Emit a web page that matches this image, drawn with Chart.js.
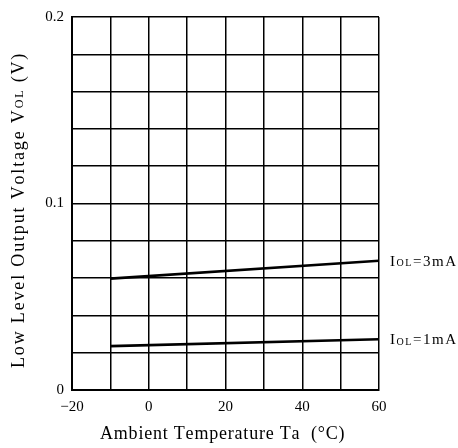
<!DOCTYPE html>
<html>
<head>
<meta charset="utf-8">
<script src="https://cdn.jsdelivr.net/npm/chart.js@4"></script>
<style>
html,body{margin:0;padding:0;background:#fff;}
#wrap{width:458px;height:448px;}
</style>
</head>
<body>
<div id="wrap"><canvas id="c" width="458" height="448"></canvas></div>
<script>
const temps3mA = [-10, 60];
const vol3mA = [0.0597, 0.0693];
const temps1mA = [-10, 60];
const vol1mA = [0.0235, 0.0272];
const seriesLabels = ['3mA', '1mA'];
const xTickLabels = [-20, 0, 20, 40, 60];
const yTickLabels = [0, 0.1, 0.2];

const FONT = '"Liberation Serif", "Times New Roman", serif';

function pts(xs, ys){ return xs.map((x,i)=>({x:x, y:ys[i]})); }

// draw mixed-size text; optionally stretch with letter spacing to a target width
function drawMixed(ctx, parts, x, y, align, target){
  let w = 0, n = 0;
  parts.forEach(p=>{ ctx.font = p.size + 'px ' + FONT; w += ctx.measureText(p.t).width; n += p.t.length; });
  let ls = 0;
  if (target && n > 1) { ls = (target - w) / (n - 1); w = target; }
  let cx = align === 'center' ? x - w/2 : x;
  ctx.textAlign = 'left';
  parts.forEach(p=>{
    ctx.font = p.size + 'px ' + FONT;
    for (const ch of p.t) {
      ctx.fillText(ch, cx, y + (p.dy||0));
      cx += ctx.measureText(ch).width + ls;
    }
  });
}

const labelPlugin = {
  id: 'labels',
  afterDraw(chart){
    const ctx = chart.ctx;
    const ys = chart.scales.y;
    ctx.save();
    ctx.fillStyle = '#000';
    ctx.textBaseline = 'middle';
    const ends = [vol3mA[vol3mA.length-1], vol1mA[vol1mA.length-1]];
    ends.forEach((v,i)=>{
      const py = ys.getPixelForValue(v) + 1;
      drawMixed(ctx, [{t:'I',size:15},{t:'OL',size:10,dy:2},{t:'=',size:15},{t:seriesLabels[i],size:15}], chart.chartArea.right + 11, py, 'left', 66);
    });
    drawMixed(ctx, [{t:'Ambient Temperature Ta  (°C)', size:18}], 221, 434, 'center', 242);
    ctx.translate(19, 212);
    ctx.rotate(-Math.PI/2);
    drawMixed(ctx, [{t:'Low Level Output Voltage V',size:18},{t:'OL',size:12,dy:1},{t:' (V)',size:18}], 0, 0, 'center', 312);
    ctx.restore();
  }
};

new Chart(document.getElementById('c'), {
  type: 'line',
  data: {
    datasets: [
      {label:'IOL=3mA', data: pts(temps3mA, vol3mA), borderColor:'#000', borderWidth:2.6, pointRadius:0, fill:false, tension:0},
      {label:'IOL=1mA', data: pts(temps1mA, vol1mA), borderColor:'#000', borderWidth:2.6, pointRadius:0, fill:false, tension:0}
    ]
  },
  options: {
    responsive:false,
    animation:false,
    devicePixelRatio:1,
    layout:{padding:{top:15, right:79, left:0, bottom:0}},
    plugins:{legend:{display:false}, tooltip:{enabled:false}},
    scales:{
      x:{
        type:'linear', min:-20, max:60,
        afterFit(s){ s.height = 58; },
        border:{display:true, color:'#000', width:2},
        grid:{color:'#000', lineWidth:1.5, drawTicks:false},
        ticks:{
          stepSize:10, padding:8, color:'#000', maxRotation:0, autoSkip:false,
          font:{family:FONT, size:15},
          callback(v){ if (xTickLabels.includes(v)) return v < 0 ? '\u2212' + Math.abs(v) : String(v); return ''; }
        }
      },
      y:{
        type:'linear', min:0, max:0.2,
        afterFit(s){ s.width = 72; },
        border:{display:true, color:'#000', width:2},
        grid:{color:'#000', lineWidth:1.5, drawTicks:false},
        ticks:{
          stepSize:0.02, padding:8, color:'#000', autoSkip:false,
          font:{family:FONT, size:15},
          callback(v){ const r = Math.round(v*100)/100; if (yTickLabels.some(t=>Math.abs(t-r)<1e-9)) return String(r); return ''; }
        }
      }
    }
  },
  plugins:[labelPlugin]
});
</script>
</body>
</html>
